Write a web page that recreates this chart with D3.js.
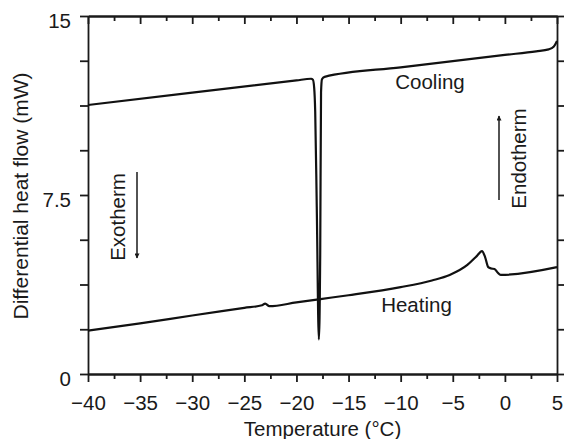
<!DOCTYPE html>
<html>
<head>
<meta charset="utf-8">
<script src="https://cdn.jsdelivr.net/npm/d3@7/dist/d3.min.js"></script>
<style>
  html, body { margin: 0; padding: 0; background: #fff; }
  svg { display: block; font-family: "Liberation Sans", Arial, sans-serif; }
  .axis path, .axis line { stroke: #1a1a1a; stroke-width: 1.8px; }
  .axis text { fill: #1a1a1a; font-size: 20.5px; font-family: "Liberation Sans", Arial, sans-serif; }
</style>
</head>
<body>
<div id="chart"></div>
<script>
/* data: temperature (°C), heat flow (mW) */
var coolingTemp = [-40, -30, -20, -18.6, -18.42, -18.3, -18.2, -18.05, -17.85, -17.72, -17.64, -17.55, -17.3, -10, 0, 3, 4.2, 4.7, 5];
var coolingFlow = [11.27, 11.79, 12.30, 12.37, 12.33, 12.0, 11.0, 7.0, 1.45, 5.0, 11.8, 12.35, 12.45, 12.85, 13.37, 13.52, 13.6, 13.72, 13.95];

var heatingTemp = [-40, -35, -30, -25, -23.3, -23.0, -22.6, -20, -17.7, -15, -10, -7, -5.3, -3.6, -2.7, -2.2, -1.9, -1.6, -1.3, -1.0, -0.7, -0.4, 5];
var heatingFlow = [1.82, 2.12, 2.45, 2.77, 2.88, 2.95, 2.84, 3.0, 3.14, 3.3, 3.64, 3.92, 4.15, 4.57, 4.94, 5.15, 4.9, 4.48, 4.42, 4.4, 4.25, 4.15, 4.48];

var xMajorTicks = [-40, -35, -30, -25, -20, -15, -10, -5, 0, 5];
var xMinorTicks = [-37.5, -32.5, -27.5, -22.5, -17.5, -12.5, -7.5, -2.5, 2.5];
var yTicks = [0, 1.875, 3.75, 5.625, 7.5, 9.375, 11.25, 13.125, 15];
var yTickLabels = ["0", "", "", "", "7.5", "", "", "", "15"];

/* layout */
var width = 564;
var height = 439;
var plot = {left: 88, right: 557, top: 16, bottom: 374};

var svg = d3.select("#chart").append("svg")
    .attr("width", width)
    .attr("height", height);

var x = d3.scaleLinear().domain([-40, 5]).range([plot.left, plot.right]);
var y = d3.scaleLinear().domain([0, 15]).range([plot.bottom, plot.top]);

/* zip two arrays into points */
function points(xs, ys) {
  return xs.map(function (d, i) {
    return [d, ys[i]];
  });
}

/* axes: bottom (outward, labelled), top (inward), left (outward, labelled), right (outward) */
var bottomMajor = svg.append("g").attr("class", "axis")
    .attr("transform", "translate(0," + plot.bottom + ")")
    .call(d3.axisBottom(x).tickValues(xMajorTicks).tickSize(8).tickSizeOuter(0)
      .tickFormat(function (d) { return d < 0 ? "\u2212" + Math.abs(d) : "" + d; }));
bottomMajor.selectAll("text").attr("y", 36).attr("dy", null);

svg.append("g").attr("class", "axis")
    .attr("transform", "translate(0," + plot.bottom + ")")
    .call(d3.axisBottom(x).tickValues(xMinorTicks).tickSize(5).tickSizeOuter(0).tickFormat(""));

svg.append("g").attr("class", "axis")
    .attr("transform", "translate(0," + plot.top + ")")
    .call(d3.axisTop(x).tickValues(xMajorTicks).tickSize(-8).tickSizeOuter(0).tickFormat(""));

svg.append("g").attr("class", "axis")
    .attr("transform", "translate(0," + plot.top + ")")
    .call(d3.axisTop(x).tickValues(xMinorTicks).tickSize(-5).tickSizeOuter(0).tickFormat(""));

var leftAxis = svg.append("g").attr("class", "axis")
    .attr("transform", "translate(" + plot.left + ",0)")
    .call(d3.axisLeft(y).tickValues(yTicks).tickSize(8).tickPadding(9).tickSizeOuter(0)
      .tickFormat(function (d, i) { return yTickLabels[i]; }));
leftAxis.selectAll("text").attr("dy", "0.55em");

svg.append("g").attr("class", "axis")
    .attr("transform", "translate(" + plot.right + ",0)")
    .call(d3.axisRight(y).tickValues(yTicks).tickSize(7).tickSizeOuter(0).tickFormat(""));

/* axis titles */
svg.append("text")
    .attr("x", (plot.left + plot.right) / 2)
    .attr("y", 436)
    .attr("text-anchor", "middle")
    .attr("font-size", "20.5px")
    .attr("fill", "#1a1a1a")
    .text("Temperature (\u00B0C)");

svg.append("text")
    .attr("transform", "translate(28," + 196 + ") rotate(-90)")
    .attr("text-anchor", "middle")
    .attr("font-size", "21px")
    .attr("fill", "#1a1a1a")
    .text("Differential heat flow (mW)");

/* the two traces */
var line = d3.line()
    .x(function (d) { return x(d[0]); })
    .y(function (d) { return y(d[1]); })
    .curve(d3.curveMonotoneX);

svg.append("path")
    .datum(points(coolingTemp, coolingFlow))
    .attr("d", line)
    .attr("fill", "none")
    .attr("stroke", "#111")
    .attr("stroke-width", 2.2)
    .attr("stroke-linejoin", "round");

svg.append("path")
    .datum(points(heatingTemp, heatingFlow))
    .attr("d", line)
    .attr("fill", "none")
    .attr("stroke", "#111")
    .attr("stroke-width", 2.2)
    .attr("stroke-linejoin", "round");

/* annotations */
svg.append("text")
    .attr("x", 430).attr("y", 89)
    .attr("text-anchor", "middle")
    .attr("font-size", "20.5px")
    .attr("fill", "#1a1a1a")
    .text("Cooling");

svg.append("text")
    .attr("x", 416.5).attr("y", 312)
    .attr("text-anchor", "middle")
    .attr("font-size", "20.5px")
    .attr("fill", "#1a1a1a")
    .text("Heating");

svg.append("text")
    .attr("transform", "translate(125,217) rotate(-90)")
    .attr("text-anchor", "middle")
    .attr("font-size", "20.5px")
    .attr("fill", "#1a1a1a")
    .text("Exotherm");

svg.append("text")
    .attr("transform", "translate(526,158.5) rotate(-90)")
    .attr("text-anchor", "middle")
    .attr("font-size", "20.5px")
    .attr("fill", "#1a1a1a")
    .text("Endotherm");

/* arrow markers */
svg.append("defs").append("marker")
    .attr("id", "head")
    .attr("viewBox", "0 0 10 10")
    .attr("refX", 9).attr("refY", 5)
    .attr("markerUnits", "userSpaceOnUse")
    .attr("markerWidth", 9).attr("markerHeight", 5)
    .attr("orient", "auto")
    .append("path")
    .attr("d", "M0,0L10,5L0,10Z")
    .attr("fill", "#1a1a1a");

svg.append("line")
    .attr("x1", 137).attr("y1", 172).attr("x2", 137).attr("y2", 258)
    .attr("stroke", "#1a1a1a").attr("stroke-width", 1.5)
    .attr("marker-end", "url(#head)");

svg.append("line")
    .attr("x1", 499).attr("y1", 200).attr("x2", 499).attr("y2", 116)
    .attr("stroke", "#1a1a1a").attr("stroke-width", 1.5)
    .attr("marker-end", "url(#head)");
</script>
</body>
</html>
